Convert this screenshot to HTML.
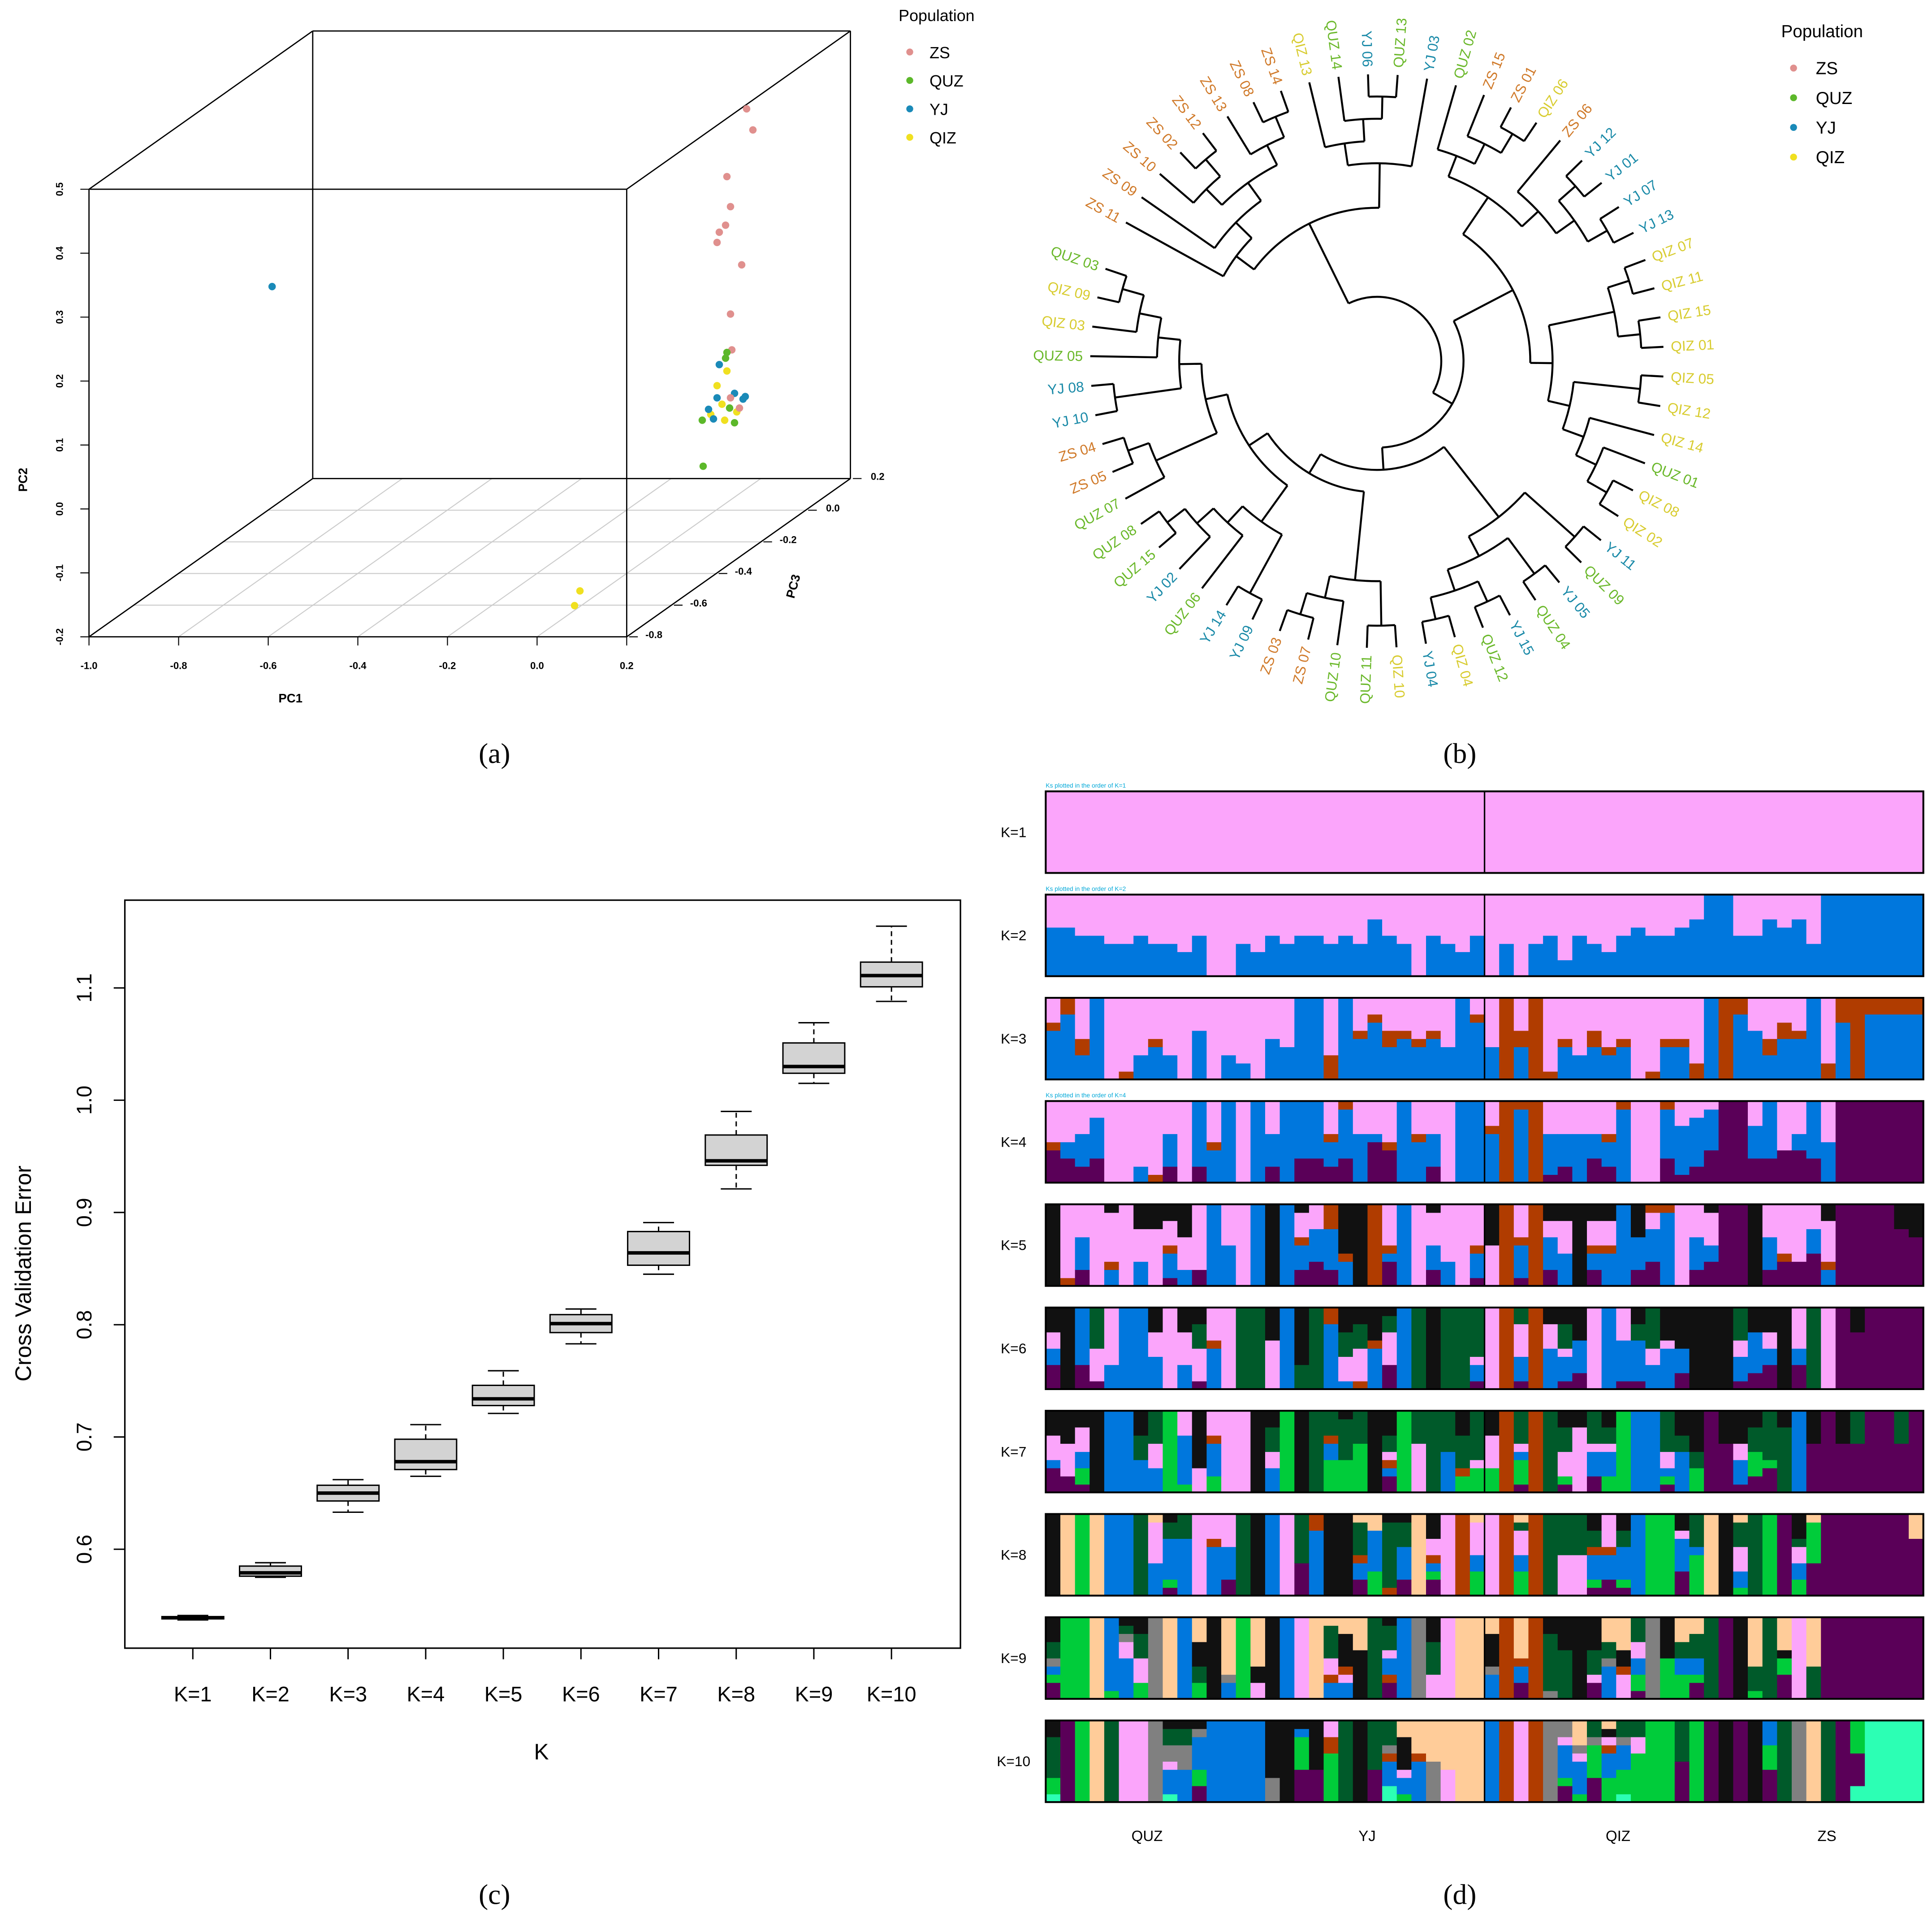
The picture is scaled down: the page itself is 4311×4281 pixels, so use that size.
<!DOCTYPE html>
<html><head><meta charset="utf-8">
<style>
html,body{margin:0;padding:0;background:#fff}
svg{display:block}
text{font-family:"Liberation Sans",sans-serif}
.serif{font-family:"Liberation Serif",serif}
</style></head>
<body>
<svg id="fig" xmlns="http://www.w3.org/2000/svg" width="4311" height="4281" viewBox="0 0 1563 1552">
<rect width="1563" height="1552" fill="#fff"/>
<g id="panel-a"></g>
<g id="panel-b"></g>
<g id="panel-c"></g>
<g id="panel-d"></g>
<text class="serif" x="400" y="617" font-size="23" text-anchor="middle">(a)</text>
<text class="serif" x="1181" y="617" font-size="23" text-anchor="middle">(b)</text>
<text class="serif" x="400" y="1540" font-size="23" text-anchor="middle">(c)</text>
<text class="serif" x="1181" y="1540" font-size="23" text-anchor="middle">(d)</text>
</svg>
<script>
// ---------- DATA ----------
const popNames = ["ZS","QUZ","YJ","QIZ"];
const popColors = ["#e0908e","#5cb82a","#1a8ab8","#f0e020"];
const labelColors = {ZS:"#d07a2a",QUZ:"#6ab82a",YJ:"#1a8aa8",QIZ:"#d8cc30"};

const pcaPC1 = [0.218,0.232,0.174,0.182,0.171,0.157,0.152,0.207,0.182,0.185,0.174,0.171,0.157,0.174,0.152,0.191,0.163,0.180,0.210,0.138,0.133,0.182,0.196,0.191,0.144,0.169,0.202,0.119,0.215,0.152,0.121,-0.154,-0.166,-0.841];
const pcaPC2 = [0.502,0.469,0.396,0.349,0.320,0.309,0.293,0.258,0.181,0.125,0.121,0.112,0.102,0.092,0.050,0.057,0.040,0.034,0.048,0.024,0.032,0.050,0.028,0.011,0.017,0.015,0.034,0.015,0.052,0.069,-0.057,-0.252,-0.275,0.224];
const pcaPC3 = [-0.3,-0.3,-0.3,-0.3,-0.3,-0.3,-0.3,-0.3,-0.3,-0.3,-0.3,-0.3,-0.3,-0.3,-0.3,-0.3,-0.3,-0.3,-0.3,-0.3,-0.3,-0.3,-0.3,-0.3,-0.3,-0.3,-0.3,-0.3,-0.3,-0.3,-0.3,-0.3,-0.3,-0.3];
const pcaPop = [0,0,0,0,0,0,0,0,0,0,1,1,2,3,2,2,3,1,2,3,2,0,3,1,2,3,0,1,2,3,1,3,3,2];
const pc1Ticks = [-1.0,-0.8,-0.6,-0.4,-0.2,0.0,0.2];
const pc2Ticks = [-0.2,-0.1,0.0,0.1,0.2,0.3,0.4,0.5];
const pc3Ticks = [0.2,0.0,-0.2,-0.4,-0.6,-0.8];

const leafLabels = ["ZS 11","ZS 09","ZS 10","ZS 02","ZS 12","ZS 13","ZS 08","ZS 14","QIZ 13","QUZ 14","YJ 06","QUZ 13","YJ 03","QUZ 02","ZS 15","ZS 01","QIZ 06","ZS 06","YJ 12","YJ 01","YJ 07","YJ 13","QIZ 07","QIZ 11","QIZ 15","QIZ 01","QIZ 05","QIZ 12","QIZ 14","QUZ 01","QIZ 08","QIZ 02","YJ 11","QUZ 09","YJ 05","QUZ 04","YJ 15","QUZ 12","QIZ 04","YJ 04","QIZ 10","QUZ 11","QUZ 10","ZS 07","ZS 03","YJ 09","YJ 14","QUZ 06","YJ 02","QUZ 15","QUZ 08","QUZ 07","ZS 05","ZS 04","YJ 10","YJ 08","QUZ 05","QIZ 03","QIZ 09","QUZ 03"];
const treeA = [0,[1,[[2,[3,4]],[5,[6,7]]]]];
const treeB = [[8,[9,[10,11]]],12];
const treeC = [[13,[14,[15,16]]],[17,[[18,19],[20,21]]]];
const treeD = [[[22,23],[24,25]],[[26,27],[28,[29,[30,31]]]]];
const treeE = [[32,33],[[34,35],[[36,37],[38,39]]]];
const treeF = [[40,41],[42,[43,44]]];
const treeG = [[[45,46],[47,[48,[49,50]]]],[[51,[52,53]],[[54,55],[56,[57,[58,59]]]]]];
const treeRoot = [[treeA,treeB],[[treeC,treeD],[treeE,[treeF,treeG]]]];

const cvCats = ["K=1","K=2","K=3","K=4","K=5","K=6","K=7","K=8","K=9","K=10"];
const cvMin = [0.537,0.575,0.633,0.665,0.721,0.783,0.845,0.921,1.015,1.088];
const cvQ1  = [0.538,0.576,0.643,0.671,0.728,0.793,0.853,0.942,1.024,1.101];
const cvMed = [0.539,0.579,0.650,0.678,0.734,0.801,0.864,0.946,1.030,1.111];
const cvQ3  = [0.540,0.585,0.657,0.698,0.746,0.809,0.883,0.969,1.051,1.123];
const cvMax = [0.541,0.588,0.662,0.711,0.759,0.814,0.891,0.990,1.069,1.155];
const cvTicks = [0.6,0.7,0.8,0.9,1.0,1.1];

const structColors = {p:"#fba5fb",b:"#0077dd",r:"#b03c00",u:"#5a0058",k:"#111111",g:"#005a2a",l:"#00cc3a",t:"#ffcc99",y:"#808080",c:"#2cffb4"};
const structK = ["K=1","K=2","K=3","K=4","K=5","K=6","K=7","K=8","K=9","K=10"];
const structGroups = ["QUZ","YJ","QIZ","ZS"];
const rowK1 = Array(60).fill("p").join(" ");
const rowK2 = "b6p b6p b5p b5p b4p b4p b5p b4p b4p b3p b5p p p b4p b3p b5p b4p b5p b5p b4p b5p b4p b7p b5p b4p p b5p b4p b3p b5p p b4p p b4p b5p b2p b5p b4p b3p b5p b6p b5p b5p b6p b7p b b b5p b5p b7p b6p b7p b4p b b b b b b b";
const rowK3 = "b6r1p b8r b3r2p b p r1p b3p b4r1p b3p p b6p p b3p b2p p b5p b4p b b r3p b b5r1p b7r1p b4r2p b5r1p b4r1p b5r1p b4p b b7r1p b4p r b4r2p r r1p b4r1p b3p b4r2p b3r1p b4r1p p r1p b4r1p b4r1p r2p b r b8r b6p b3r2p b5r2p b5r1p b r2p b7r r b8r b8r b8r b8r";
const rowK4 = "u4r1p u3b2p u2b4p u3b5p p p b2p r1p u2b4p p u2b b4r1p b p b u2b4p b u3b u3b u2b3r1p u3b6r b6p u5b1p u4r1p b b5r1p u2b4p p b b b6r1p r b9r r u1b5p u2b4p b6p u3b3p u2b3r1p b9r p p u3b6r u1b6p u2b6p u4b5p u u u3b4p u3b u4p u4b2p u3b b5p u u u u u u";
const rowK5 = "k r1p u2b4p p b2r1p6k p b3p4k p7k u1b3r1p3k b2p4k u2p b b5p p b k b u2b3r1p3k u3b4p u2b5r b3r1k k r u3b1r1p b p u2b3p4k b3p p u1b3r1p p5k r u1b4r1p4k r u2b4p2k b4p4k k u2b2r1p3k b4r1p3k b u2b4k u3b4p2r b9r p u2b4p u3b2p4k u u k u2b4p4k u3r1p u3p u4b3p b2r1p5k u u u u u7k u6k";
const rowK6 = "u3b2p2k k u3b u1p4g b3p b b b4p3k p b3p4k u1p4g3k b5r1p p g g p6k b g3k g b8r b1p3g3k r1p4g3k b5r1k u3p4g2k b g k g g u1b2p1g p r u1b3p4g r b5p3k u1b3p1g3k u2b4k p b u1b5p u1b5g2k b3p2g b5p1k u2b3k k k k u1b3p2g u2b5k u3b2p2k k u3b2p g p u u7k u u u u";
const rowK7 = "u3b1p3k u2p4k u1l2b2p3k k b b b4g3k b3p3g l l1b6p p3k l2b4r1p p p k b3p2g3k l k g l4b2r1g l4g5k l6g k u2b1r1p1g2k l p6g g b5g l2r1g4k l3p1g l3p4k r u1l3b1p1g r g u1l1p3g3k p8k u2b3p1g l2b3p1g2k l b b u1l1b1p2g b5g2k l3g2k u u6k u1b3p2k u2l3g3k u3l1g g8k b u6k u u6k u6g u u u6g u";
const rowK8 = "k t l t b b g b4p5t u1l1b5g2k b7g p b6r1p u2b4p g k b p u4g b8r k k u2b2r1g4t l3b5t r1g8k u2b4g3k t u2l1b1r1p2k p r l3b2p4t p r l3b2p3g1t r g p5g p5g u1l1b3r1g2k u2b3r1p u1l1b4g2k b l l u3b4p1k l5b1g t k l1b2p3g3t g l u l2b2p2g1k u4l5t u u u u u u u7t";
const rowK9 = "u2l1b1y1g2k l l t l1b b5p2y1g1k l2p3g3k y t b l2g2k3t k b2y1t l p2k2t k b p t b2r1p2g4t b2p1r1k4t k6t g u2r1b2p1g3k b y p3g4k p t t b3y1k4t r u2b2r1t r y1g7k g6k k u2p1g3k b4y1g2t p3r1k2t u1l2b2p2g y l5k l3b2g2t u2l1b2g3t g u k l1g3t g u3l2k1t p g4t u u u u u u u";
const rowK10 = "c1l2g5k u l t g p p y c1b3p1y2g2k b4y3g2k u2l2b4y1k1t b b b b y3k k u4l4b1k u4k l6r2p g k u4g c2b3r1y1g l1b2p1k4t b5r1t y5t p4t t t b r p r y u2l1b4p1y2g l1b4p1y1t u3l4y1g l3b3r1p1k1t c1l3b3y1g2t l6p2g l l u5g l u k u k u4l3b g y t g u c2u4l c c c c";
const structRows = [rowK1,rowK2,rowK3,rowK4,rowK5,rowK6,rowK7,rowK8,rowK9,rowK10];

// ---------- HELPERS ----------
const NS = "http://www.w3.org/2000/svg";
function mk(tag, attrs, parent){
  const e = document.createElementNS(NS, tag);
  for (const k in attrs) e.setAttribute(k, attrs[k]);
  parent.appendChild(e);
  return e;
}
function fmt(v){ return (Math.abs(v)<1e-9?0:v).toFixed(1); }

// ---------- PANEL A : 3D PCA ----------
(function(){
  const g = document.getElementById("panel-a");
  function off(pc3){ const d=(0.2-pc3)/1.0; return [(1-d)*181, -(1-d)*128]; }
  function sx(pc1,pc3){ return 72+(pc1+1)/1.2*435+off(pc3)[0]; }
  function sy(pc2,pc3){ return 515-(pc2+0.2)/0.7*362+off(pc3)[1]; }
  pc1Ticks.forEach(v=>{
    const l = mk("line",{x1:sx(v,-0.8),y1:sy(-0.2,-0.8),x2:sx(v,0.2),y2:sy(-0.2,0.2),stroke:"#cccccc","stroke-width":0.8},g);
    
    
  });
  pc3Ticks.forEach(v=>{
    const l = mk("line",{x1:sx(-1,v),y1:sy(-0.2,v),x2:sx(0.2,v),y2:sy(-0.2,v),stroke:"#cccccc","stroke-width":0.8},g);
    
    
  });
  const xs=[-1,0.2], ys=[-0.2,0.5], zs=[0.2,-0.8];
  const edges=[];
  xs.forEach(a=>ys.forEach(b=>edges.push([[a,b,zs[0]],[a,b,zs[1]]])));
  xs.forEach(a=>zs.forEach(c=>edges.push([[a,ys[0],c],[a,ys[1],c]])));
  ys.forEach(b=>zs.forEach(c=>edges.push([[xs[0],b,c],[xs[1],b,c]])));
  edges.forEach(e=>{
    const l = mk("line",{x1:sx(e[0][0],e[0][2]),y1:sy(e[0][1],e[0][2]),x2:sx(e[1][0],e[1][2]),y2:sy(e[1][1],e[1][2]),stroke:"#000","stroke-width":1},g);
    
    
  });
  pc1Ticks.forEach(v=>{
    const x=sx(v,-0.8), y=sy(-0.2,-0.8);
    const t = mk("line",{x1:x,y1:y,x2:x,y2:y+7,stroke:"#000","stroke-width":0.8},g);
    
    
    const tx = mk("text",{x:x,y:y+26,"font-size":8,"font-weight":"bold","text-anchor":"middle"},g);
    tx.textContent = fmt(v);
    
    
  });
  pc2Ticks.forEach(v=>{
    const x=sx(-1,-0.8), y=sy(v,-0.8);
    const t = mk("line",{x1:x,y1:y,x2:x-7,y2:y,stroke:"#000","stroke-width":0.8},g);
    
    
    const tx = mk("text",{x:51,y:y,"font-size":8,"font-weight":"bold","text-anchor":"middle",transform:`rotate(-90 51 ${y})`},g);
    tx.textContent = fmt(v);
    
    
  });
  pc3Ticks.forEach(v=>{
    const x=sx(0.2,v), y=sy(-0.2,v);
    const t = mk("line",{x1:x+2,y1:y,x2:x+9,y2:y,stroke:"#000","stroke-width":0.8},g);
    
    
    const tx = mk("text",{x:x+22,y:y+1,"font-size":8,"font-weight":"bold","text-anchor":"middle"},g);
    tx.textContent = fmt(v);
    
    
  });
  let t;
  t = mk("text",{x:235,y:568,"font-size":10,"font-weight":"bold","text-anchor":"middle"},g); t.textContent="PC1";
   
  t = mk("text",{x:22,y:388,"font-size":10,"font-weight":"bold","text-anchor":"middle",transform:"rotate(-90 22 388)"},g); t.textContent="PC2";
   
  t = mk("text",{x:645,y:475,"font-size":10,"font-weight":"bold","text-anchor":"middle",transform:"rotate(-75 645 475)"},g); t.textContent="PC3";
   
  pcaPC1.forEach((v,i)=>{
    const c = mk("circle",{cx:sx(v,pcaPC3[i]),cy:sy(pcaPC2[i],pcaPC3[i]),r:3,fill:popColors[pcaPop[i]]},g);
    
    
  });
  t = mk("text",{x:727,y:17,"font-size":13},g); t.textContent="Population";
   
  popNames.forEach((n,i)=>{
    const y=42+i*23;
    const c = mk("circle",{cx:736,cy:y,r:2.8,fill:popColors[i]},g);
    
    
    const tx = mk("text",{x:752,y:y+5,"font-size":13},g); tx.textContent=n;
    
    
  });
})();

// ---------- PANEL B : circular dendrogram ----------
(function(){
  const g = document.getElementById("panel-b");
  const cx=1114, cy=292, leafR=232, labR=238, step=18, startA=208.9, spacing=5.93;
  const rad = d=>d*Math.PI/180;
  const leafAngle = i=>startA+i*spacing;
  function pt(r,a){ return [cx+r*Math.cos(rad(a)), cy+r*Math.sin(rad(a))]; }
  function layout(node){
    if (typeof node==="number") return {a:leafAngle(node), r:leafR};
    const kids = node.map(layout);
    const r = Math.min(...kids.map(k=>k.r))-step;
    const a0 = Math.min(...kids.map(k=>k.a)), a1 = Math.max(...kids.map(k=>k.a));
    kids.forEach(k=>{
      const p1=pt(r,k.a), p2=pt(k.r,k.a);
      const l = mk("line",{x1:p1[0],y1:p1[1],x2:p2[0],y2:p2[1],stroke:"#000","stroke-width":1.6},g);
      
      
    });
    const s=pt(r,a0), e=pt(r,a1);
    const large = (a1-a0)>180?1:0;
    const p = mk("path",{d:`M${s[0]},${s[1]} A${r},${r} 0 ${large} 1 ${e[0]},${e[1]}`,fill:"none",stroke:"#000","stroke-width":1.6},g);
    
    
    return {a:(a0+a1)/2, r:r};
  }
  layout(treeRoot);
  leafLabels.forEach((lab,i)=>{
    let a = leafAngle(i)%360;
    const p = pt(labR, a);
    const left = a>90 && a<270;
    const rot = left? a+180 : a;
    const pop = lab.split(" ")[0];
    const t = mk("text",{x:p[0],y:p[1],"font-size":11.5,fill:labelColors[pop],"text-anchor":left?"end":"start","dominant-baseline":"central",transform:`rotate(${rot} ${p[0]} ${p[1]})`},g);
    t.textContent = lab;
    
    
  });
  let t = mk("text",{x:1441,y:30,"font-size":14},g); t.textContent="Population";
   
  popNames.forEach((n,i)=>{
    const y=55+i*24;
    const c = mk("circle",{cx:1451,cy:y,r:2.8,fill:popColors[i]},g);
    
    
    const tx = mk("text",{x:1469,y:y+5,"font-size":14},g); tx.textContent=n;
    
    
  });
})();

// ---------- PANEL C : boxplot ----------
(function(){
  const g = document.getElementById("panel-c");
  const L=101,R=777,T=728,B=1333;
  const yv = v=>1253-(v-0.6)*908;
  const xc = i=>156+i*62.8;
  let f = mk("rect",{x:L,y:T,width:R-L,height:B-T,fill:"none",stroke:"#000","stroke-width":1.2},g);
   
  cvTicks.forEach(v=>{
    const y=yv(v);
    const l = mk("line",{x1:L,y1:y,x2:L-9,y2:y,stroke:"#000","stroke-width":1.1},g);
     
    const t = mk("text",{x:74,y:y,"font-size":17,"text-anchor":"middle",transform:`rotate(-90 74 ${y})`},g);
    t.textContent = v.toFixed(1);
     
  });
  cvCats.forEach((c,i)=>{
    const x=xc(i);
    const l = mk("line",{x1:x,y1:B,x2:x,y2:B+9,stroke:"#000","stroke-width":1.1},g);
     
    const t = mk("text",{x:x,y:B+43,"font-size":17,"text-anchor":"middle"},g);
    t.textContent = c;
     
    const w1 = mk("line",{x1:x,y1:yv(cvQ3[i]),x2:x,y2:yv(cvMax[i]),stroke:"#000","stroke-width":1.1,"stroke-dasharray":"4 3"},g);
     
    const w2 = mk("line",{x1:x,y1:yv(cvQ1[i]),x2:x,y2:yv(cvMin[i]),stroke:"#000","stroke-width":1.1,"stroke-dasharray":"4 3"},g);
     
    const c1 = mk("line",{x1:x-12.5,y1:yv(cvMax[i]),x2:x+12.5,y2:yv(cvMax[i]),stroke:"#000","stroke-width":1.1},g);
     
    const c2 = mk("line",{x1:x-12.5,y1:yv(cvMin[i]),x2:x+12.5,y2:yv(cvMin[i]),stroke:"#000","stroke-width":1.1},g);
     
    const bx = mk("rect",{x:x-25,y:yv(cvQ3[i]),width:50,height:Math.max(yv(cvQ1[i])-yv(cvQ3[i]),0.5),fill:"#d3d3d3",stroke:"#000","stroke-width":1.1},g);
     
    const md = mk("line",{x1:x-25,y1:yv(cvMed[i]),x2:x+25,y2:yv(cvMed[i]),stroke:"#000","stroke-width":2.8},g);
     
  });
  let t = mk("text",{x:438,y:1423,"font-size":18,"text-anchor":"middle"},g); t.textContent="K";
   
  t = mk("text",{x:25,y:1030,"font-size":18,"text-anchor":"middle",transform:"rotate(-90 25 1030)"},g); t.textContent="Cross Validation Error";
   
})();

// ---------- PANEL D : structure bars ----------
(function(){
  const g = document.getElementById("panel-d");
  const X0=846, W=710, N=60, H=66, cw=W/N;
  const rowY = k=>640+k*83.5;
  structRows.forEach((row,k)=>{
    const y0=rowY(k);
    const toks=row.split(" ");
    for(let i=0;i<N && i<toks.length;i++){
      const segs=[...toks[i].matchAll(/([a-z])(\d?)/g)];
      let acc=0;
      segs.forEach((m,j)=>{
        const frac = (m[2]==="" || j===segs.length-1) ? 1-acc : Math.min(parseInt(m[2])/10,1-acc);
        if(frac<=0) return;
        const yb = y0+H-(acc+frac)*H;
        const r = mk("rect",{x:X0+i*cw,y:yb,width:cw+0.3,height:frac*H+0.3,fill:structColors[m[1]]},g);
        
        
        acc+=frac;
      });
    }
    const fr = mk("rect",{x:X0,y:y0,width:W,height:H,fill:"none",stroke:"#000","stroke-width":1.5},g);
     
    const dv = mk("line",{x1:X0+W/2,y1:y0,x2:X0+W/2,y2:y0+H,stroke:"#000","stroke-width":1.2},g);
     
    const lb = mk("text",{x:820,y:y0+H/2+4,"font-size":11.5,"text-anchor":"middle"},g);
    lb.textContent = structK[k];
     
    if(k===0||k===1||k===3){
      const nt = mk("text",{x:X0,y:y0-3,"font-size":5,fill:"#00a8d8"},g);
      nt.textContent = "Ks plotted in the order of K=" + (k+1);
       
    }
  });
  const gx=[928,1106,1309,1478];
  structGroups.forEach((n,i)=>{
    const t = mk("text",{x:gx[i],y:1489,"font-size":12,"text-anchor":"middle"},g);
    t.textContent=n;
    
    
  });
})();
</script>
</body></html>
